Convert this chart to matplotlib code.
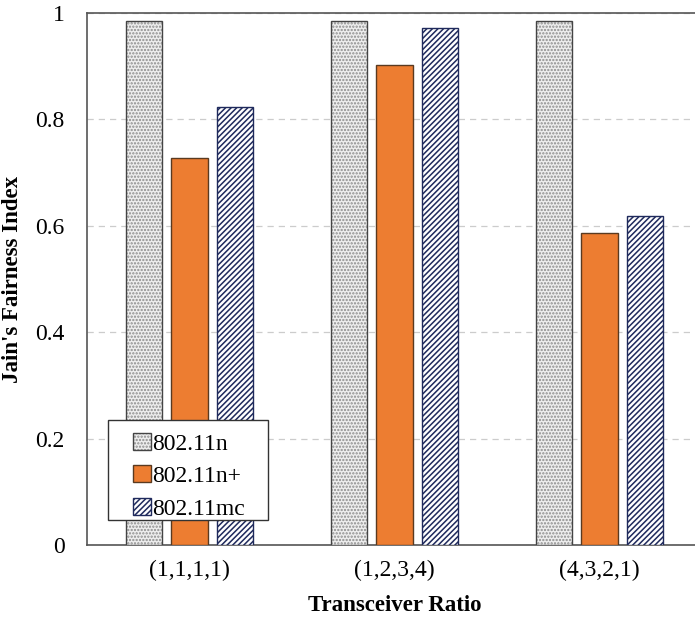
import matplotlib
matplotlib.use("Agg")
import matplotlib.pyplot as plt
from matplotlib.legend_handler import HandlerTuple
from matplotlib.patches import Rectangle
import numpy as np

categories = ["(1,1,1,1)", "(1,2,3,4)", "(4,3,2,1)"]
series_names = ["802.11n", "802.11n+", "802.11mc"]
v_n = [0.985, 0.985, 0.985]
v_nplus = [0.727, 0.902, 0.586]
v_mc = [0.823, 0.972, 0.618]
yticks = [0, 0.2, 0.4, 0.6, 0.8, 1]
ytick_labels = ["0", "0.2", "0.4", "0.6", "0.8", "1"]

plt.rcParams['font.family'] = ['Liberation Serif', 'DejaVu Serif']
plt.rcParams['hatch.linewidth'] = 1.1

fig = plt.figure(figsize=(6.95, 6.19), dpi=100)
ax = fig.add_axes([87/695, 74/619, 615/695, 532/619])

x = np.arange(len(categories))
w = 0.176
off = 0.222
b1h = ax.bar(x - off, v_n, w, facecolor='#eeeeee', edgecolor='#8c8c8c', hatch='.....', linewidth=0, zorder=3)
b1o = ax.bar(x - off, v_n, w, facecolor='none', edgecolor='#444444', linewidth=1.0, zorder=3.5)
b2 = ax.bar(x, v_nplus, w, facecolor='#ED7D31', edgecolor='#5a3a20', linewidth=1.0, zorder=3)
b3 = ax.bar(x + off, v_mc, w, facecolor='white', edgecolor='#1F2A5C', hatch='//////', linewidth=1.0, zorder=3)

ax.set_xlim(-0.5, 2.5)
ax.set_ylim(0, 1)
ax.set_yticks(yticks)
ax.set_yticklabels(ytick_labels)
ax.set_xticks(x)
ax.set_xticklabels(categories)
ax.tick_params(axis='both', labelsize=17, length=0, pad=11)
ax.tick_params(axis='y', pad=16)
ax.yaxis.grid(True, linestyle=(0, (5, 4)), color='#cccccc', linewidth=0.9, zorder=0)
for s in ax.spines.values():
    s.set_color('#555555')
    s.set_linewidth(1.2)

ax.set_ylabel("Jain's Fairness Index", fontsize=16.5, fontweight='bold', labelpad=9)
ax.set_xlabel("Transceiver Ratio", fontsize=16.5, fontweight='bold', labelpad=10)

# legend frame box (drawn separately to match the wide padding of the reference)
box = Rectangle((108/695, 99/619), 160/695, 100/619, transform=fig.transFigure,
                facecolor='white', edgecolor='#333333', linewidth=1.0, zorder=4.9)
ax.add_patch(box)
box.set_clip_on(False)

handles = [(b1h[0], b1o[0]), b2[0], b3[0]]
leg = ax.legend(handles, series_names, loc='lower left', bbox_to_anchor=(37/615, 16/532), fontsize=17,
                frameon=False,
                handler_map={tuple: HandlerTuple(ndivide=1, pad=0)},
                handlelength=0.75, handleheight=0.75, handletextpad=0.05,
                labelspacing=0.45, borderpad=0.4, borderaxespad=0)
leg.set_zorder(5)

fig.savefig("out.png", dpi=100)
